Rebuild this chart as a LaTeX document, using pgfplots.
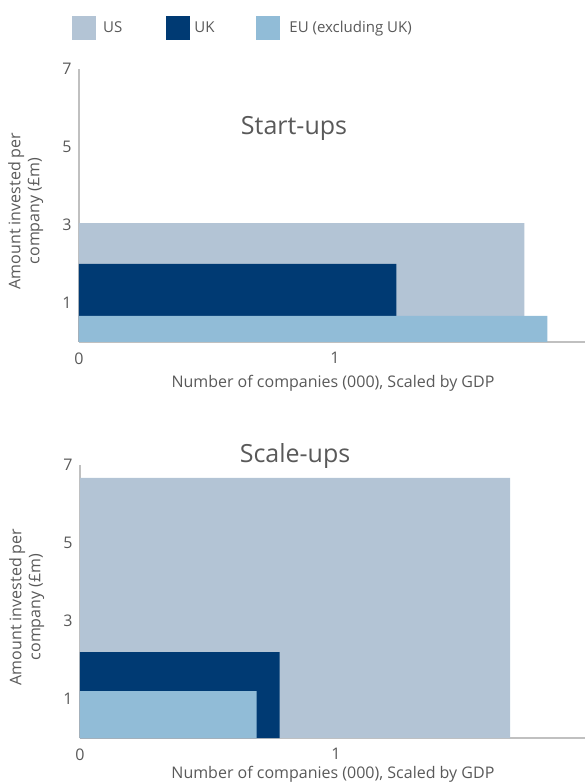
\documentclass[border=0pt]{standalone}
\usepackage{pgfplots}
\pgfplotsset{compat=1.18}
\usepackage{fontspec}
\setmainfont{Open Sans}
\definecolor{usc}{HTML}{B3C4D5}
\definecolor{ukc}{HTML}{003A73}
\definecolor{euc}{HTML}{91BCD7}
\definecolor{txtgray}{HTML}{595959}
\definecolor{axisgray}{HTML}{C0C0C0}
\pgfplotsset{
  myaxis/.style={
    width=512pt, height=273pt, scale only axis,
    xmin=0, xmax=2, ymin=0, ymax=7,
    axis lines*=left,
    axis line style={draw=axisgray, line width=1.2pt},
    xtick={0,1,2}, ytick={1,3,5,7},
    major tick length=0pt,
    /pgf/number format/assume math mode=true,
    tick label style={font=\fontsize{16}{19}\selectfont, text=txtgray},
    label style={font=\fontsize{16}{19}\selectfont, text=txtgray},
    title style={font=\fontsize{25}{29}\selectfont, text=txtgray, anchor=center},
    xlabel={Number of companies (000), Scaled by GDP},
    ylabel={Amount invested per\\company (£m)},
    ylabel style={align=center, at={(axis description cs:-0.104,0.48)}, anchor=center},
    yticklabel style={xshift=-4pt},
    xticklabel style={yshift=-7pt},
  },
  bar/.style={fill=#1, draw=none},
}
\begin{document}
\begin{tikzpicture}[x=1pt,y=1pt]
\path[use as bounding box] (0,0) rectangle (585,782);
\clip (0,0) rectangle (585,782);
\begin{axis}[myaxis, at={(79pt,440pt)}, anchor=south west,
  title={Start-ups},
  title style={at={(axis description cs:0.42,0.762)}},
  xlabel style={at={(axis description cs:0.496,-0.150)}, anchor=center},
  legend columns=3,
  legend image code/.code={\path[#1] (0pt,-12pt) rectangle (24pt,12pt);},
  legend style={at={(axis description cs:-0.0137,1.15)}, anchor=west,
    draw=none, fill=none, inner sep=0pt, font=\fontsize{15}{18}\selectfont, text=txtgray,
    nodes={inner sep=0pt, anchor=west},
    /tikz/column 1/.style={column sep=7pt},
    /tikz/column 2/.style={column sep=44pt},
    /tikz/column 3/.style={column sep=4pt},
    /tikz/column 4/.style={column sep=42pt},
    /tikz/column 5/.style={column sep=9pt}},
]
\addplot[bar=usc] coordinates {(0,0) (1.74,0) (1.74,3.05) (0,3.05) (0,0)};
\addlegendentry{US}
\addplot[bar=ukc] coordinates {(0,0) (1.24,0) (1.24,2.0) (0,2.0) (0,0)};
\addlegendentry{UK}
\addplot[bar=euc] coordinates {(0,0) (1.83,0) (1.83,0.67) (0,0.67) (0,0)};
\addlegendentry{EU (excluding UK)}
\end{axis}
\begin{axis}[myaxis, at={(80pt,44pt)}, anchor=south west,
  title={Scale-ups},
  title style={at={(axis description cs:0.42,1.011)}},
  xlabel style={at={(axis description cs:0.494,-0.132)}, anchor=center},
]
\addplot[bar=usc] coordinates {(0,0) (1.68,0) (1.68,6.67) (0,6.67) (0,0)};
\addplot[bar=ukc] coordinates {(0,0) (0.78,0) (0.78,2.2) (0,2.2) (0,0)};
\addplot[bar=euc] coordinates {(0,0) (0.69,0) (0.69,1.2) (0,1.2) (0,0)};
\end{axis}
\end{tikzpicture}
\end{document}
